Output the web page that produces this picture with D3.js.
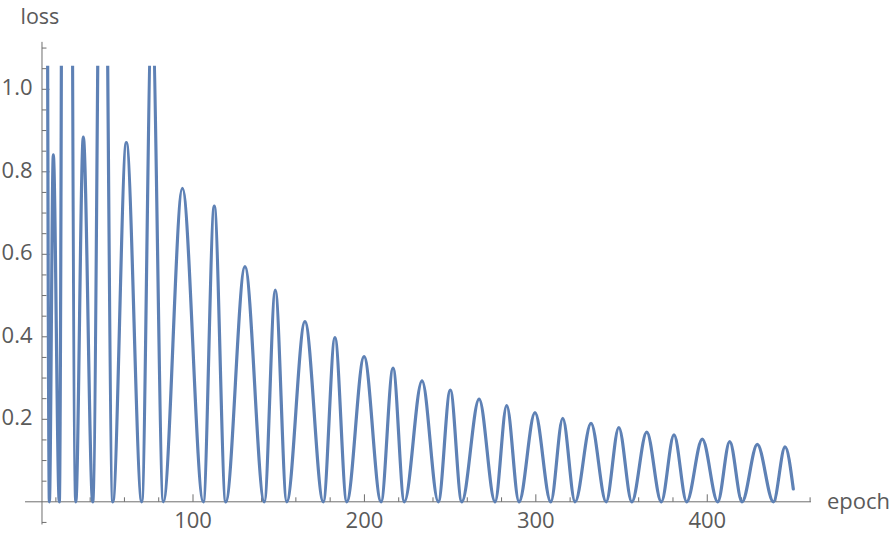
<!DOCTYPE html>
<html>
<head>
<meta charset="utf-8">
<script src="https://cdn.jsdelivr.net/npm/d3@7"></script>
<style>
  html, body { margin: 0; padding: 0; background: #fff; }
  svg { display: block; }
  text { font-family: "Open Sans", "Noto Sans", sans-serif; fill: #5a5a5a; }
</style>
</head>
<body>
<svg id="chart" width="894" height="536"></svg>
<script>
// Extrema of the loss curve (epoch, loss)
const epochs = [15.0, 16.2, 18.5, 22.0, 25.8, 31.6, 36.0, 41.5, 47.3, 53.2,
  61.1, 70.1, 76.0, 82.7, 93.8, 106.0, 112.4, 119.1, 130.3, 141.6,
  148.0, 154.7, 165.3, 176.0, 182.8, 189.7, 199.8, 209.7, 216.7, 223.3,
  233.6, 243.1, 250.1, 256.8, 266.9, 276.2, 283.0, 290.2, 299.5, 308.7,
  315.7, 322.9, 332.2, 341.0, 348.4, 356.0, 364.7, 373.2, 380.6, 388.0,
  397.1, 406.1, 413.1, 420.3, 429.2, 438.6, 445.4, 450.2];
const losses = [1.4, 0, 0.841, 0, 4.5, 0, 0.884, 0, 2.1, 0,
  0.871, 0, 1.2, 0, 0.760, 0, 0.717, 0, 0.570, 0,
  0.513, 0, 0.437, 0, 0.398, 0, 0.352, 0, 0.324, 0,
  0.293, 0, 0.271, 0, 0.249, 0, 0.233, 0, 0.216, 0,
  0.202, 0, 0.190, 0, 0.180, 0, 0.169, 0, 0.162, 0,
  0.152, 0, 0.146, 0, 0.139, 0, 0.133, 0.031];

const xMajorTicks = [100, 200, 300, 400];
const xMinorTicks = [20, 40, 60, 80, 120, 140, 160, 180, 220, 240, 260, 280, 320, 340, 360, 380, 420, 440, 460];
const yMajorTicks = [0.2, 0.4, 0.6, 0.8, 1.0];
const yMinorTicks = [-0.05, 0.05, 0.1, 0.15, 0.25, 0.3, 0.35, 0.45, 0.5, 0.55, 0.65, 0.7, 0.75, 0.85, 0.9, 0.95, 1.05, 1.1];
const xAxisLabel = "epoch";
const yAxisLabel = "loss";

const data = epochs.map((e, i) => ({ x: e, y: losses[i] }));

const svg = d3.select("#chart");
const x = d3.scaleLinear().domain([0, 460]).range([21.6, 810.1]);
const y = d3.scaleLinear().domain([0, 1]).range([501.8, 89.3]);

const axisColor = "#6e6e6e";
const xOrigin = 11.9;      // epoch where the vertical axis sits
const xExtent = [2.0, 460.5];
const yExtent = [-0.055, 1.115];
const yClip = 1.057;

// clip
svg.append("defs").append("clipPath").attr("id", "plotclip")
  .append("rect")
  .attr("x", x(xExtent[0])).attr("y", y(yClip))
  .attr("width", x(xExtent[1]) - x(xExtent[0]))
  .attr("height", y(yExtent[0]) - y(yClip) + 10);

// axes lines
const g = svg.append("g");
g.append("line")
  .attr("x1", x(xExtent[0])).attr("x2", x(xExtent[1]))
  .attr("y1", y(0)).attr("y2", y(0))
  .attr("stroke", axisColor).attr("stroke-width", 1);
g.append("line")
  .attr("x1", x(xOrigin)).attr("x2", x(xOrigin))
  .attr("y1", y(yExtent[0])).attr("y2", y(yExtent[1]))
  .attr("stroke", axisColor).attr("stroke-width", 1);

// x ticks
g.selectAll(".xmaj").data(xMajorTicks).enter().append("line")
  .attr("x1", d => x(d)).attr("x2", d => x(d))
  .attr("y1", y(0)).attr("y2", y(0) - 7.5)
  .attr("stroke", axisColor).attr("stroke-width", 1);
g.selectAll(".xmin").data(xMinorTicks).enter().append("line")
  .attr("x1", d => x(d)).attr("x2", d => x(d))
  .attr("y1", y(0)).attr("y2", y(0) - 4.5)
  .attr("stroke", axisColor).attr("stroke-width", 1);
g.selectAll(".xlab").data(xMajorTicks).enter().append("text")
  .attr("x", d => x(d)).attr("y", 527.5)
  .attr("text-anchor", "middle")
  .attr("font-size", 22)
  .text(d => d);

// y ticks
g.selectAll(".ymaj").data(yMajorTicks).enter().append("line")
  .attr("x1", x(xOrigin)).attr("x2", x(xOrigin) + 7.5)
  .attr("y1", d => y(d)).attr("y2", d => y(d))
  .attr("stroke", axisColor).attr("stroke-width", 1);
g.selectAll(".ymin").data(yMinorTicks).enter().append("line")
  .attr("x1", x(xOrigin)).attr("x2", x(xOrigin) + 4.5)
  .attr("y1", d => y(d)).attr("y2", d => y(d))
  .attr("stroke", axisColor).attr("stroke-width", 1);
g.selectAll(".ylab").data(yMajorTicks).enter().append("text")
  .attr("x", x(xOrigin) - 9.5).attr("y", d => y(d) + 5.8)
  .attr("text-anchor", "end")
  .attr("font-size", 22)
  .text(d => d.toFixed(1));

// axis labels
svg.append("text").attr("x", 827).attr("y", 509)
  .attr("font-size", 22).text(xAxisLabel);
svg.append("text").attr("x", 20.5).attr("y", 23.5)
  .attr("font-size", 21.5).text(yAxisLabel);

// curve
const line = d3.line()
  .x(d => x(d.x)).y(d => y(d.y))
  .curve(d3.curveMonotoneX);
svg.append("path")
  .datum(data)
  .attr("clip-path", "url(#plotclip)")
  .attr("d", line)
  .attr("fill", "none")
  .attr("stroke", "#5e81b5")
  .attr("stroke-width", 3.2)
  .attr("stroke-linejoin", "round")
  .attr("stroke-linecap", "round");
</script>
</body>
</html>
